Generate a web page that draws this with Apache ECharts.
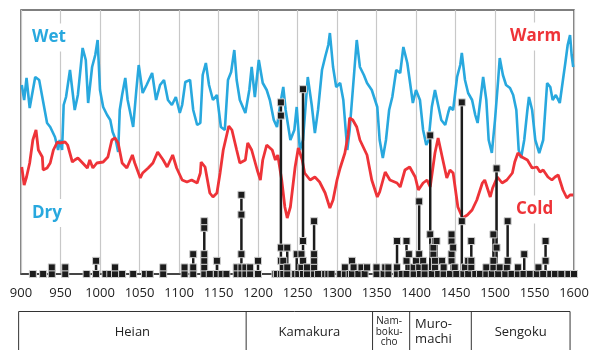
<!DOCTYPE html>
<html><head><meta charset="utf-8">
<script src="https://cdn.jsdelivr.net/npm/echarts/dist/echarts.min.js"></script>
<style>html,body{margin:0;padding:0;background:#fff}#c{width:600px;height:350px}</style>
</head><body><div id="c"></div>
<script>
// Wet/Dry index (blue)
const wetYears = [901,904,907,911,918,923,933,937,943,947,949,952,954,957,962,968,972,978,982,985,990,994,997,1000,1004,1009,1013,1016,1020,1023,1025,1028,1032,1035,1042,1046,1049,1054,1059,1066,1071,1076,1081,1086,1091,1096,1101,1104,1108,1114,1118,1123,1127,1130,1134,1138,1143,1148,1153,1158,1162,1166,1170,1173,1177,1184,1189,1192,1196,1201,1206,1211,1215,1220,1224,1228,1232,1235,1241,1246,1249,1253,1257,1263,1268,1272,1276,1281,1285,1289,1291,1295,1299,1304,1308,1313,1316,1322,1325,1329,1334,1338,1344,1351,1354,1358,1362,1366,1370,1375,1380,1384,1389,1392,1396,1400,1405,1409,1413,1416,1420,1424,1428,1432,1437,1441,1443,1447,1452,1456,1458,1462,1466,1471,1475,1478,1485,1489,1492,1496,1500,1504,1506,1510,1514,1519,1523,1527,1530,1533,1537,1541,1543,1547,1551,1556,1561,1566,1570,1573,1577,1582,1586,1589,1592,1595,1597,1599];
const wetIndex = [189,174,196,166,197,194,151,147,137,124,134,124,169,177,204,164,179,226,214,171,207,219,234,184,167,159,154,142,134,122,164,179,196,174,147,184,209,181,189,201,174,189,194,174,169,177,161,169,192,194,164,149,151,199,211,189,174,179,147,144,194,202,224,194,174,161,184,207,177,214,191,184,174,154,147,169,187,164,134,144,167,124,134,197,169,141,164,204,217,229,241,207,187,191,174,124,144,204,234,207,199,191,184,167,134,116,134,164,177,204,201,227,211,194,171,184,174,144,129,134,167,184,169,154,149,162,167,164,197,209,221,194,181,174,159,151,197,174,134,121,154,194,216,199,189,186,179,164,124,116,134,164,177,164,134,121,134,191,187,174,179,171,194,211,229,239,219,207];

// Warm/Cold index (red)
const tempYears = [901,904,907,911,915,919,922,927,928,933,937,941,946,949,956,959,965,968,972,978,984,987,991,996,1004,1010,1015,1019,1023,1028,1034,1041,1044,1051,1054,1061,1067,1073,1080,1085,1092,1097,1104,1110,1116,1123,1127,1128,1133,1139,1143,1148,1152,1156,1161,1163,1167,1173,1177,1184,1187,1192,1199,1203,1206,1211,1218,1222,1225,1230,1234,1237,1241,1247,1251,1256,1259,1266,1272,1278,1285,1291,1295,1300,1304,1310,1314,1316,1320,1325,1329,1338,1344,1351,1354,1361,1367,1376,1380,1386,1392,1399,1403,1409,1414,1418,1424,1428,1434,1439,1443,1447,1453,1459,1465,1471,1477,1484,1487,1494,1497,1503,1509,1515,1522,1525,1529,1534,1541,1547,1553,1557,1561,1567,1572,1576,1580,1586,1591,1595,1599];
const tempIndex = [107,89,97,111,134,144,124,117,104,106,111,124,132,131,132,129,112,114,116,111,106,114,106,111,112,117,134,136,131,111,106,119,111,96,101,106,111,122,114,107,119,106,94,92,94,91,101,112,107,81,77,81,101,124,141,148,144,124,111,114,131,124,104,94,114,129,124,114,119,94,67,56,67,107,126,114,101,94,97,92,81,66,74,94,106,121,139,156,154,147,134,119,94,77,82,102,94,91,87,104,107,97,84,91,94,87,121,136,114,96,104,101,67,56,59,64,74,91,94,77,86,97,91,94,101,112,121,117,114,106,107,102,104,97,94,97,99,84,76,79,79];

// Recorded events (black stems): year and the count levels marked at that year
const eventYears = [915,928,939,956,983,995,1007,1013,1019,1028,1042,1057,1063,1080,1107,1118,1132,1139,1148,1154,1160,1173,1179,1184,1190,1200,1222,1224,1229,1232,1237,1247,1249,1251,1255,1257,1262,1271,1276,1285,1289,1293,1304,1310,1316,1319,1321,1327,1331,1335,1338,1350,1359,1361,1365,1376,1382,1388,1391,1397,1400,1404,1405,1409,1411,1418,1420,1422,1424,1426,1428,1433,1435,1443,1445,1447,1449,1451,1458,1460,1462,1466,1470,1475,1481,1489,1496,1498,1502,1504,1506,1513,1515,1516,1521,1529,1536,1537,1544,1553,1555,1561,1564,1570,1576,1584,1593,1600];
const eventCounts = [[0],[0],[0,1],[0,1],[0],[0,2],[0],[0],[0,1],[0],[0],[0],[0],[0,1],[0,1],[0,1,3],[0,1,2,3,7,8],[0],[0,2],[0],[0],[0,1],[0,1,3,9,12],[0,1],[0,1],[0,2],[0],[0],[0,2,4,24,26],[0,2],[0,1,4],[0],[3],[0],[1,3],[0,2,5,28],[0,1],[0,1,2,3,8],[0],[0],[0],[0],[0],[0,1],[0],[0,2],[1],[0],[1],[0],[1],[0,1],[0],[1],[0,1],[0,1,5],[0],[0,2,5],[3],[0,1],[2],[1,3,11],[0],[2],[0,1],[6,21],[0],[3,4],[1,2,5],[5],[0],[2],[0,1],[0],[2,3,5,6],[4],[1],[0],[8,26],[0],[1],[0,2],[1,2,5],[0],[0],[0,1],[0],[1,2,6],[4,16],[0],[1],[0],[1],[2,8],[0],[0,1],[0],[3],[0],[0],[1],[0],[2,5],[0],[0],[0],[0],[0]];

// Historical periods
const periodNames = ['Heian','Kamakura','Nam-\nboku-\ncho','Muro-\nmachi','Sengoku'];
const periodBounds = [897,1185,1345,1392,1470,1595];

const BLUE = '#28a8de', RED = '#ee3338', BLACK = '#1c1c1c';
const FONT = '"Open Sans", "Noto Sans", sans-serif';

const wetData = wetYears.map((y, i) => [y, wetIndex[i]]);
const tempData = tempYears.map((y, i) => [y, tempIndex[i]]);
const squareData = [];
const stemData = [];
eventYears.forEach((y, i) => {
  eventCounts[i].forEach(v => squareData.push([y, v]));
  const m = Math.max.apply(null, eventCounts[i]);
  if (m > 0) stemData.push([y, m]);
});

const chart = echarts.init(document.getElementById('c'), null, {renderer: 'canvas'});
chart.setOption({
  animation: false,
  grid: {left: 21, top: 10, width: 553, height: 264, show: true, borderColor: '#555', borderWidth: 1.5, backgroundColor: 'transparent'},
  xAxis: {
    type: 'value', min: 900, max: 1600, interval: 50,
    axisLine: {show: true, onZero: false, lineStyle: {color: '#333', width: 1.5}},
    axisTick: {show: false},
    axisLabel: {color: '#222', fontFamily: FONT, fontSize: 13, margin: 13, formatter: v => String(v)},
    splitLine: {show: true, lineStyle: {color: '#c8c8c8', width: 1.2}}
  },
  yAxis: [
    {type: 'value', min: 0, max: 264, show: false, splitLine: {show: false}},
    {type: 'value', min: 0, max: 40, show: false, splitLine: {show: false}}
  ],
  series: [
    {type: 'line', data: wetData, yAxisIndex: 0, showSymbol: false, lineStyle: {color: BLUE, width: 2.6}, z: 2},
    {type: 'line', data: tempData, yAxisIndex: 0, showSymbol: false, lineStyle: {color: RED, width: 2.8}, z: 3},
    {type: 'custom', data: stemData, yAxisIndex: 1, z: 4, clip: false,
      renderItem: (params, api) => {
        const b = api.coord([api.value(0), 0]);
        const t = api.coord([api.value(0), api.value(1)]);
        return {type: 'line', shape: {x1: b[0], y1: b[1], x2: t[0], y2: t[1]}, style: {stroke: BLACK, lineWidth: 2.5}};
      }},
    {type: 'scatter', data: squareData, yAxisIndex: 1, symbol: 'rect', symbolSize: 7, clip: false, z: 5,
      itemStyle: {color: BLACK, borderColor: '#cfcfcf', borderWidth: 1, opacity: 1}}
  ]
});

const px = y => chart.convertToPixel({xAxisIndex: 0}, y);
const tableTop = 311.5, tableBottom = 351;
const gfx = [];
gfx.push({type: 'line', shape: {x1: px(periodBounds[0]), y1: tableTop, x2: px(periodBounds[periodBounds.length - 1]), y2: tableTop}, style: {stroke: '#333', lineWidth: 1}});
periodBounds.forEach(b => {
  gfx.push({type: 'line', shape: {x1: px(b), y1: tableTop, x2: px(b), y2: tableBottom}, style: {stroke: '#333', lineWidth: 1}});
});
periodNames.forEach((n, i) => {
  const cx = (px(periodBounds[i]) + px(periodBounds[i + 1])) / 2;
  const small = n.split('\n').length > 2;
  gfx.push({type: 'text', x: cx + (i === 3 ? -7 : (i === 2 ? -2 : 0)), y: 332,
    style: {text: n, fill: '#222', font: (small ? '10px ' : '13px ') + FONT, align: 'center', verticalAlign: 'middle', lineHeight: small ? 10.5 : 15}});
});
const tag = (t, x, y, c) => ({type: 'text', x: x, y: y, z: 10,
  style: {text: t, fill: c, font: 'bold 17px ' + FONT, verticalAlign: 'middle', backgroundColor: '#fff', padding: [5, 3, 6, 3]}});
gfx.push(tag('Wet', 29, 37.5, BLUE));
gfx.push(tag('Dry', 29, 213, BLUE));
gfx.push(tag('Warm', 507, 36.5, RED));
gfx.push(tag('Cold', 513, 209.5, RED));
chart.setOption({graphic: gfx});
</script>
</body></html>
